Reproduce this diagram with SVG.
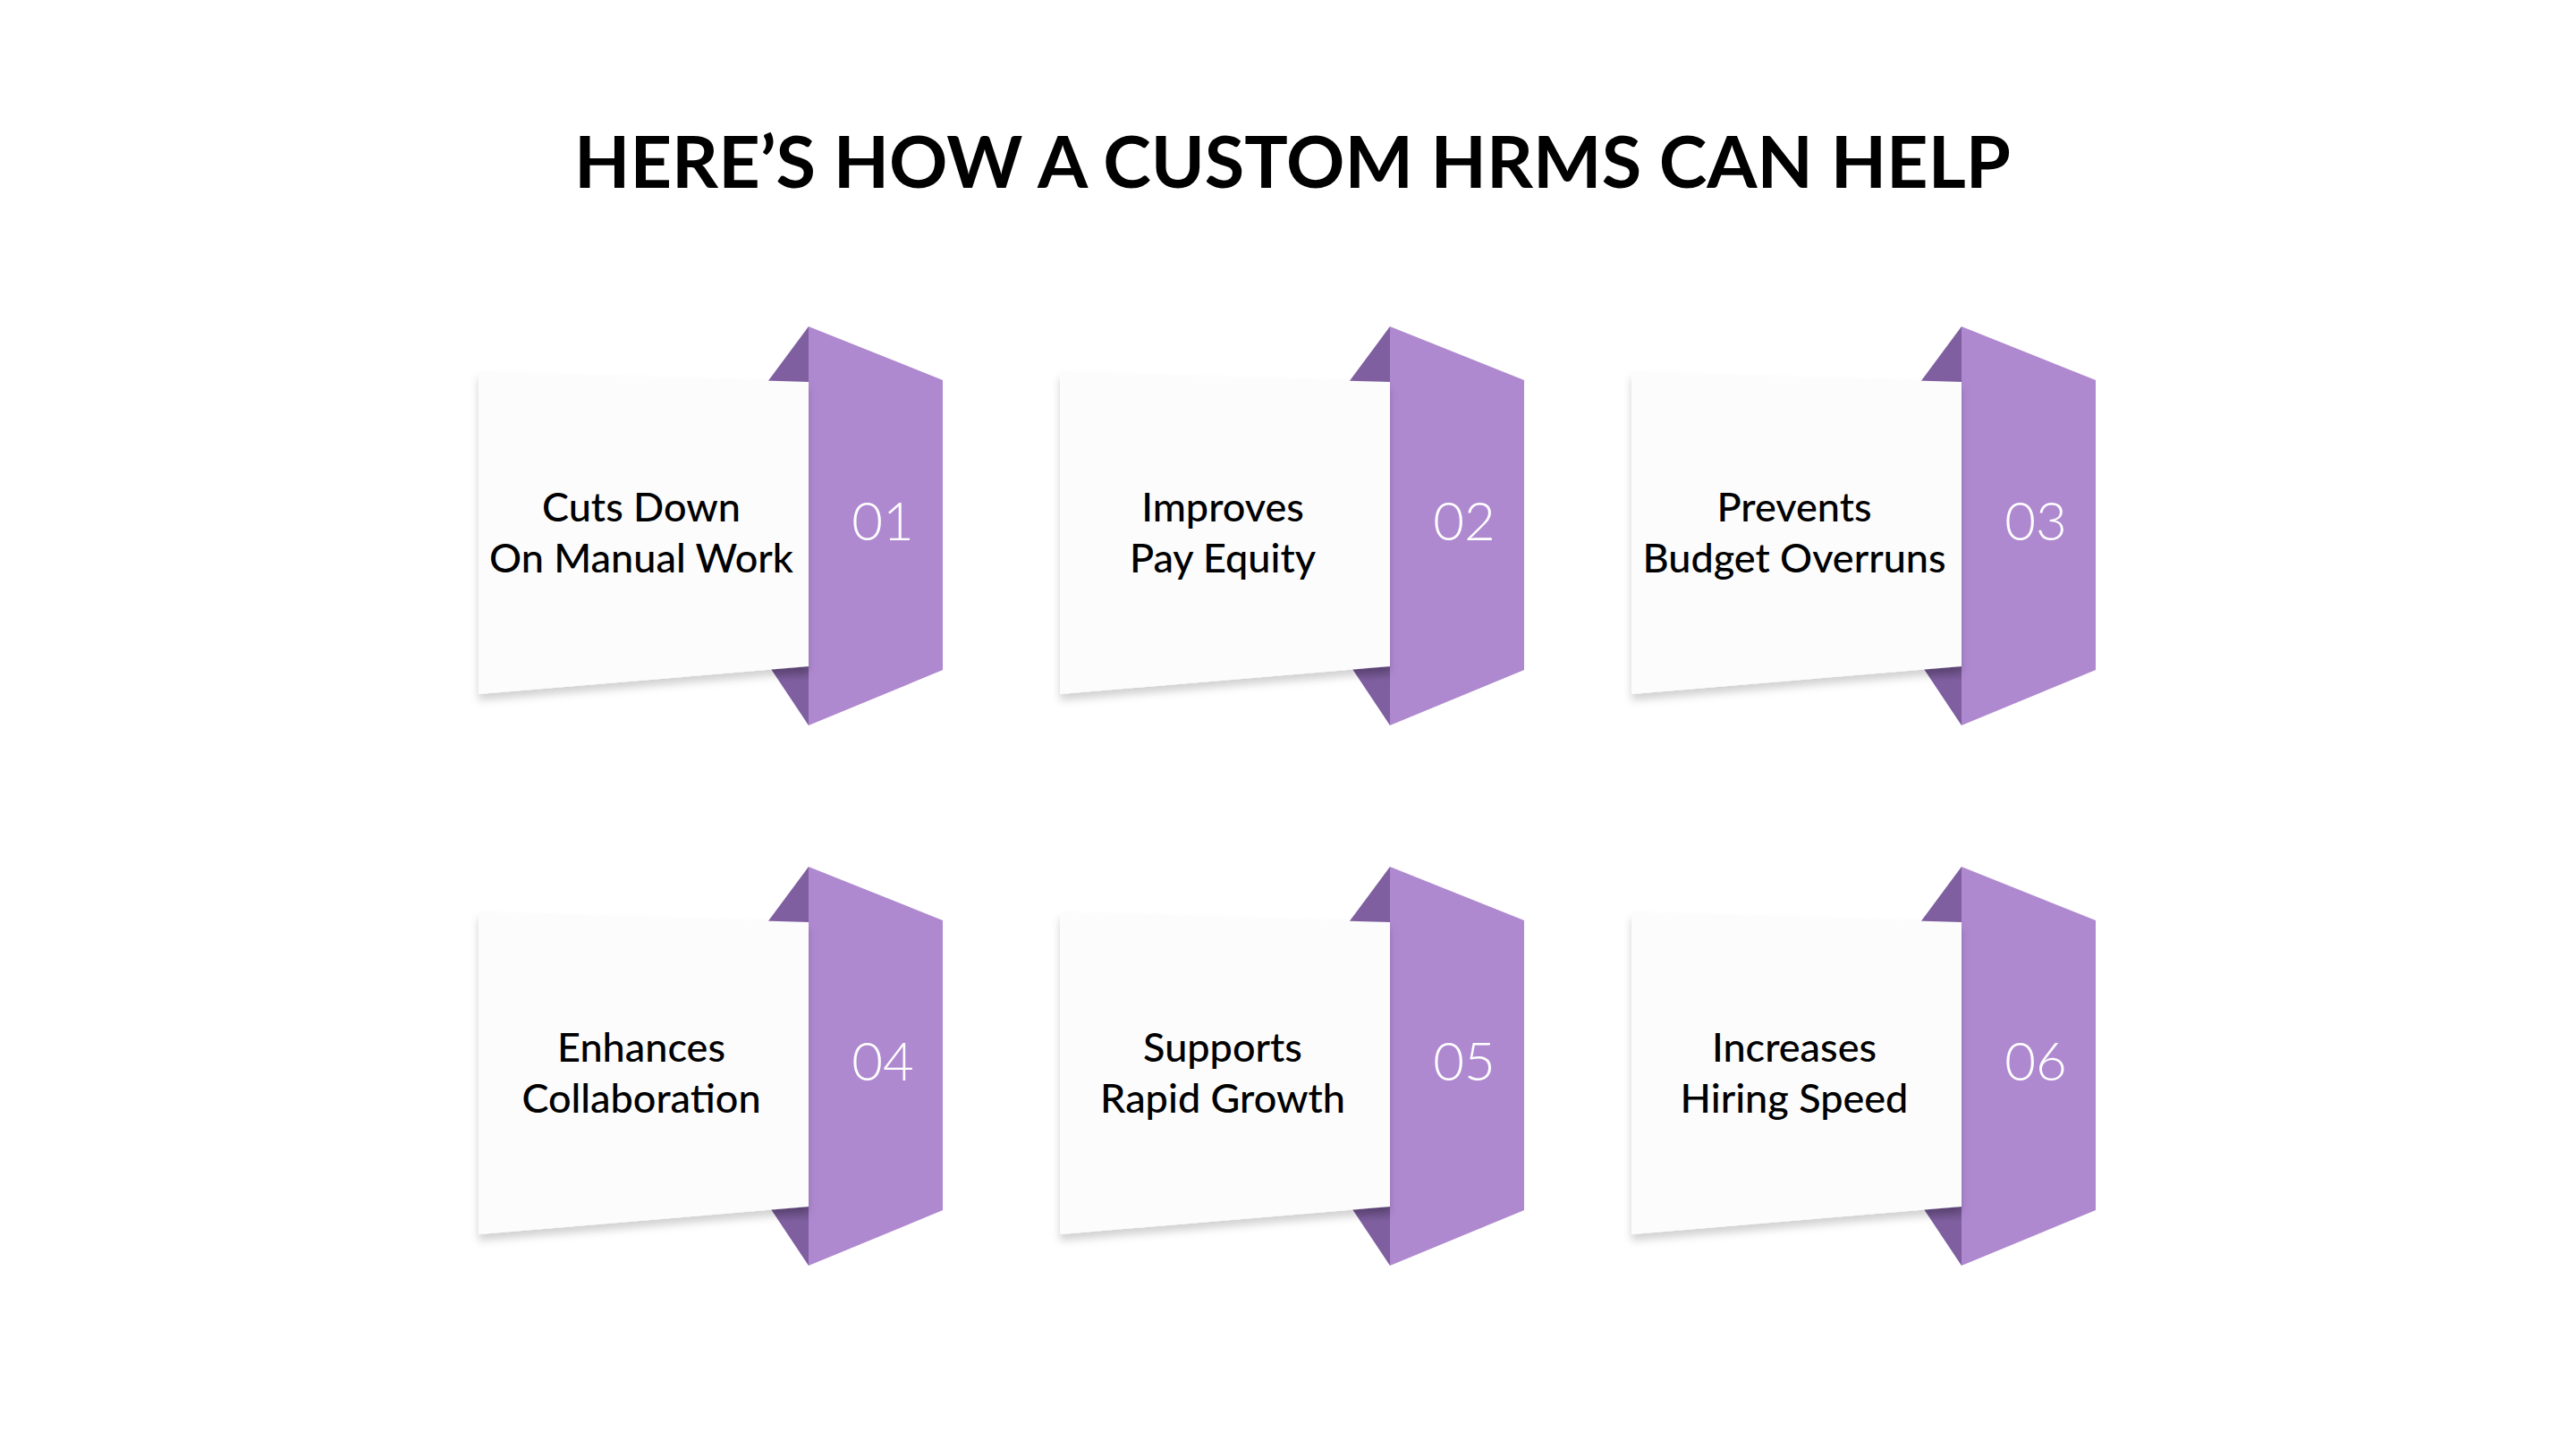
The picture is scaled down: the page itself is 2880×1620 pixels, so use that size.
<svg xmlns="http://www.w3.org/2000/svg" width="2880" height="1620" viewBox="0 0 2880 1620">
<defs>
<filter id="sh" x="-10%" y="-10%" width="130%" height="130%">
<feDropShadow dx="0" dy="7" stdDeviation="5" flood-color="#000" flood-opacity="0.18"/>
</filter>
<linearGradient id="tg" x1="0" y1="0" x2="0" y2="1">
<stop offset="0" stop-color="#6a4f86"/><stop offset="0.25" stop-color="#7F5FA0"/>
</linearGradient>
<g id="card">
<polygon points="858,427 904,365 904,427" fill="#7F5FA0"/>
<polygon points="860,745 904,811 904,745" fill="url(#tg)"/>
<polygon points="904,365 1054,425 1054,749 904,811" fill="#AF89D0"/>
<polygon points="535,416 904,427 904,745 535,776" fill="#FCFCFC" filter="url(#sh)"/>
</g>
</defs>
<style>
.t{font-family:Lato,"Noto Sans",sans-serif;font-size:45px;font-weight:500;fill:#000;text-anchor:middle}
.n{font-family:Lato,"Noto Sans",sans-serif;font-size:60px;font-weight:300;fill:#fff;text-anchor:middle}
.h{font-family:Lato,"Noto Sans",sans-serif;font-size:81px;font-weight:700;fill:#000;text-anchor:middle}
</style>
<rect width="2880" height="1620" fill="#fff"/>
<text class="h" x="1445" y="210">HERE’S HOW A CUSTOM HRMS CAN HELP</text>
<g id="node1"><use href="#card"/><text class="t" x="717" y="583">Cuts Down</text><text class="t" x="717" y="640">On Manual Work</text><text class="n" x="987" y="604">01</text></g>
<g id="node2" transform="translate(650,0)"><use href="#card"/><text class="t" x="717" y="583">Improves</text><text class="t" x="717" y="640">Pay Equity</text><text class="n" x="987" y="604">02</text></g>
<g id="node3" transform="translate(1289,0)"><use href="#card"/><text class="t" x="717" y="583">Prevents</text><text class="t" x="717" y="640">Budget Overruns</text><text class="n" x="987" y="604">03</text></g>
<g id="node4" transform="translate(0,604)"><use href="#card"/><text class="t" x="717" y="583">Enhances</text><text class="t" x="717" y="640">Collaboration</text><text class="n" x="987" y="604">04</text></g>
<g id="node5" transform="translate(650,604)"><use href="#card"/><text class="t" x="717" y="583">Supports</text><text class="t" x="717" y="640">Rapid Growth</text><text class="n" x="987" y="604">05</text></g>
<g id="node6" transform="translate(1289,604)"><use href="#card"/><text class="t" x="717" y="583">Increases</text><text class="t" x="717" y="640">Hiring Speed</text><text class="n" x="987" y="604">06</text></g>
<g id="connectors"/>
</svg>
